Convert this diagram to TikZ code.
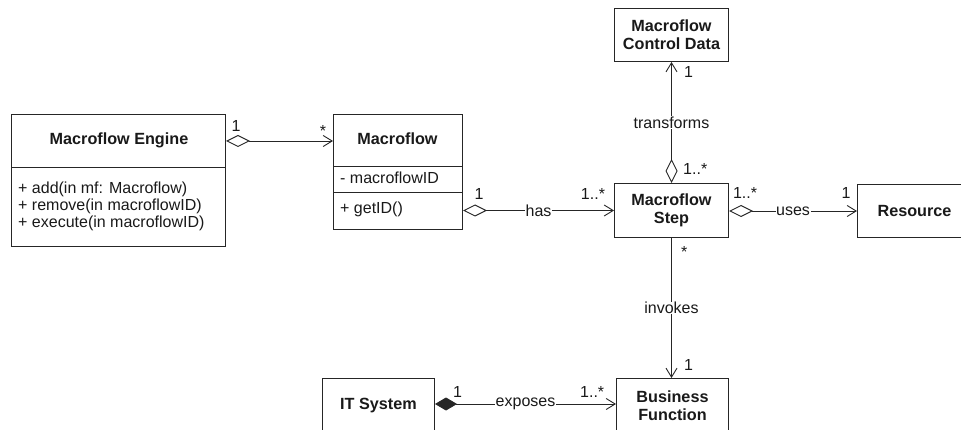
\documentclass[tikz,border=0pt]{standalone}
\usepackage{fontspec}
\setmainfont{Liberation Sans}
\usetikzlibrary{arrows.meta}
\begin{document}
\begin{tikzpicture}[x=1pt,y=-1pt,
  every node/.style={font=\fontsize{16}{17.5}\selectfont, text=black!90},
  box/.style={draw=black!85, line width=1pt, rectangle, inner sep=0pt, anchor=north west, align=center, font=\fontsize{16.2}{18}\selectfont\bfseries},
  conn/.style={draw=black!85, line width=0.9pt},
  agg/.style={conn, {Diamond[open,length=24pt,width=12pt]}-{Straight Barb[length=9pt,width=11pt]}},
  comp/.style={conn, {Diamond[length=22pt,width=13pt]}-{Straight Barb[length=9pt,width=11pt]}},
  lbl/.style={fill=white, inner sep=0.6pt},
  mult/.style={anchor=base, inner sep=0pt},
  multw/.style={anchor=base west, inner sep=0pt},
  txt/.style={anchor=base west, inner sep=0pt},
  ttl/.style={anchor=base, inner sep=0pt, font=\fontsize{16.2}{18}\selectfont\bfseries}
]
\useasboundingbox (0,0) rectangle (961,430);
\clip (0,0) rectangle (961,430);

% Macroflow Engine
\node[box, minimum width=214pt, minimum height=132pt] (eng) at (11,114) {};
\node[ttl] (engT) at (119,145) {Macroflow Engine};
\draw[conn] (eng.west |- 0,167) -- (eng.east |- 0,167);
\node[txt] (m1) at (18,194) {+ add(in mf: Macroflow)};
\node[txt] (m2) at (18,211) {+ remove(in macroflowID)};
\node[txt] (m3) at (18,228) {+ execute(in macroflowID)};

% Macroflow
\node[box, minimum width=129pt, minimum height=115pt] (mf) at (333,114) {};
\node[ttl] (mfT) at (397.5,145) {Macroflow};
\draw[conn] (mf.west |- 0,166) -- (mf.east |- 0,166);
\draw[conn] (mf.west |- 0,192) -- (mf.east |- 0,192);
\node[txt] (a1) at (340,184) {- macroflowID};
\node[txt] (o1) at (340,214) {+ getID()};

% Other boxes
\node[box, minimum width=114pt, minimum height=53pt] (cd) at (614,8) {Macroflow\\Control Data};
\node[box, minimum width=114pt, minimum height=54pt] (step) at (614,183) {Macroflow\\Step};
\node[box, minimum width=114pt, minimum height=53pt] (res) at (857,184) {Resource};
\node[box, minimum width=112pt, minimum height=54pt] (bf) at (616,378) {Business\\Function};
\node[box, minimum width=112pt, minimum height=54pt] (it) at (322,378) {IT System};

% Connectors
\draw[agg] (eng.east |- 0,141) -- (mf.west |- 0,141);
\node[mult] (e1) at (236,132) {1};
\node[mult] (e2) at (323,137) {*};

\draw[agg] (mf.east |- step) -- node[lbl] (hasL) {has} (step.west);
\node[mult] (h1) at (479,200) {1};
\node[mult] (h2) at (593,200) {1..*};

\draw[agg] (step.east |- res) -- node[lbl] (usesL) {uses} (res.west);
\node[mult] (u1) at (745,199) {1..*};
\node[mult] (u2) at (846,199) {1};

\draw[agg] (step.north) -- node[lbl] (trL) {transforms} (cd.south);
\node[multw] (t1) at (684,78) {1};
\node[multw] (t2) at (683,175) {1..*};

\draw[conn, -{Straight Barb[length=9pt,width=11pt]}] (step.south) -- node[lbl] (invL) {invokes} (bf.north -| step.south);
\node[multw] (i1) at (681,258) {*};
\node[multw] (i2) at (684,370) {1};

\draw[comp] (it.east |- 0,404) -- node[lbl] (expL) {exposes} (bf.west |- 0,404);
\node[multw] (x1) at (453,397) {1};
\node[multw] (x2) at (580,397) {1..*};
\end{tikzpicture}
\end{document}
